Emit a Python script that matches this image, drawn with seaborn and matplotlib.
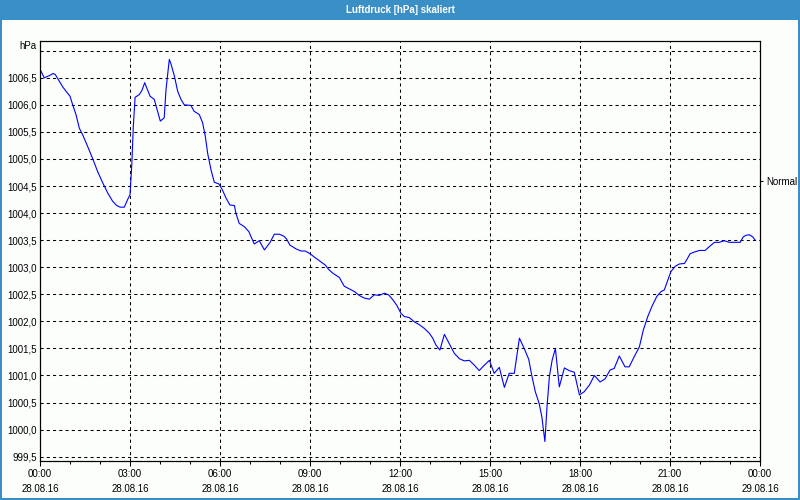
import matplotlib
matplotlib.use("Agg")
import matplotlib.pyplot as plt
from matplotlib.patches import Rectangle
from matplotlib.ticker import FixedLocator, MultipleLocator
import seaborn as sns
import pandas as pd

title = "Luftdruck [hPa] skaliert"
unit_label = "hPa"
ref_label = "Normal"
ref_value = 1004.60

hours = [0.01, 0.14, 0.31, 0.44, 0.51, 0.64, 0.76, 0.87, 1.0, 1.09, 1.2, 1.31, 1.42, 1.59, 1.76, 1.92,
         2.09, 2.26, 2.42, 2.56, 2.67, 2.81, 2.92, 3.0, 3.06, 3.11, 3.17, 3.31, 3.4, 3.49, 3.56, 3.67,
         3.81, 3.87, 4.01, 4.14, 4.2, 4.31, 4.37, 4.48, 4.59, 4.7, 4.81, 5.03, 5.14, 5.31, 5.42, 5.51,
         5.59, 5.7, 5.81, 5.96, 6.07, 6.2, 6.33, 6.48, 6.53, 6.64, 6.81, 6.96, 7.03, 7.14, 7.31, 7.48,
         7.67, 7.81, 7.98, 8.14, 8.22, 8.33, 8.53, 8.7, 8.84, 9.0, 9.14, 9.31, 9.51, 9.62, 9.76, 9.98,
         10.14, 10.31, 10.48, 10.64, 10.81, 10.98, 11.14, 11.31, 11.48, 11.62, 11.76, 11.89, 12.03,
         12.14, 12.31, 12.48, 12.64, 12.81, 12.98, 13.09, 13.2, 13.33, 13.48, 13.64, 13.81, 13.98,
         14.14, 14.31, 14.48, 14.64, 14.81, 14.98, 15.14, 15.31, 15.48, 15.64, 15.81, 15.98, 16.14,
         16.29, 16.4, 16.51, 16.64, 16.73, 16.83, 16.9, 16.98, 17.07, 17.18, 17.31, 17.48, 17.64,
         17.81, 17.98, 18.14, 18.31, 18.48, 18.67, 18.84, 19.0, 19.14, 19.31, 19.5, 19.64, 19.81,
         19.98, 20.11, 20.26, 20.4, 20.56, 20.7, 20.81, 20.9, 21.03, 21.18, 21.31, 21.48, 21.56,
         21.67, 21.81, 21.98, 22.17, 22.31, 22.48, 22.64, 22.81, 22.98, 23.14, 23.34, 23.44, 23.53,
         23.64, 23.76, 23.84]

pressure = [1006.65, 1006.5, 1006.54, 1006.58, 1006.56, 1006.44, 1006.33, 1006.25, 1006.16, 1006.0,
            1005.82, 1005.57, 1005.45, 1005.23, 1005.0, 1004.77, 1004.56, 1004.37, 1004.22, 1004.14,
            1004.11, 1004.11, 1004.25, 1004.34, 1004.9, 1005.6, 1006.14, 1006.19, 1006.27, 1006.41,
            1006.31, 1006.16, 1006.1, 1005.98, 1005.7, 1005.76, 1006.28, 1006.84, 1006.75, 1006.53,
            1006.25, 1006.1, 1006.0, 1005.99, 1005.88, 1005.82, 1005.67, 1005.42, 1005.1, 1004.8,
            1004.57, 1004.54, 1004.44, 1004.28, 1004.15, 1004.14, 1004.0, 1003.81, 1003.75, 1003.66,
            1003.57, 1003.43, 1003.49, 1003.32, 1003.46, 1003.61, 1003.61, 1003.57, 1003.52, 1003.41,
            1003.34, 1003.3, 1003.3, 1003.25, 1003.19, 1003.12, 1003.04, 1002.96, 1002.89, 1002.81,
            1002.65, 1002.6, 1002.55, 1002.48, 1002.43, 1002.41, 1002.49, 1002.48, 1002.52, 1002.49,
            1002.4, 1002.3, 1002.15, 1002.09, 1002.07, 1001.99, 1001.94, 1001.87, 1001.78, 1001.69,
            1001.56, 1001.47, 1001.76, 1001.59, 1001.41, 1001.31, 1001.27, 1001.28, 1001.19, 1001.09,
            1001.19, 1001.28, 1001.04, 1001.15, 1000.78, 1001.04, 1001.04, 1001.69, 1001.5, 1001.3,
            1000.98, 1000.7, 1000.48, 1000.23, 999.78, 1000.42, 1000.98, 1001.28, 1001.5, 1000.79,
            1001.14, 1001.09, 1001.06, 1000.64, 1000.7, 1000.82, 1001.0, 1000.88, 1000.94, 1001.1,
            1001.13, 1001.36, 1001.16, 1001.16, 1001.35, 1001.53, 1001.84, 1002.09, 1002.28, 1002.46,
            1002.55, 1002.58, 1002.72, 1002.92, 1003.02, 1003.06, 1003.07, 1003.14, 1003.25, 1003.28,
            1003.31, 1003.31, 1003.38, 1003.46, 1003.46, 1003.49, 1003.46, 1003.46, 1003.46, 1003.56,
            1003.59, 1003.6, 1003.56, 1003.5]

x_tick_hours = [0, 3, 6, 9, 12, 15, 18, 21, 24]
x_tick_labels = ["00:00\n28.08.16", "03:00\n28.08.16", "06:00\n28.08.16", "09:00\n28.08.16",
                 "12:00\n28.08.16", "15:00\n28.08.16", "18:00\n28.08.16", "21:00\n28.08.16",
                 "00:00\n29.08.16"]
y_ticks = [999.5, 1000.0, 1000.5, 1001.0, 1001.5, 1002.0, 1002.5, 1003.0, 1003.5, 1004.0,
           1004.5, 1005.0, 1005.5, 1006.0, 1006.5, 1007.0]

sns.set_theme(style="white")
plt.rcParams["font.family"] = ["Liberation Sans", "DejaVu Sans"]

bar_blue = "#3b8fc7"
bg = "#fcfefc"
fs = 7

fig = plt.figure(figsize=(8, 5), dpi=100, facecolor=bg)
# title bar and window frame
fig.add_artist(Rectangle((0, 1 - 20 / 500), 1, 20 / 500, transform=fig.transFigure,
                         facecolor=bar_blue, edgecolor="none", zorder=0))
fig.add_artist(Rectangle((0, 0), 2 / 800, 1, transform=fig.transFigure,
                         facecolor=bar_blue, edgecolor="none", zorder=0))
fig.add_artist(Rectangle((1 - 2 / 800, 0), 2 / 800, 1, transform=fig.transFigure,
                         facecolor=bar_blue, edgecolor="none", zorder=0))
fig.add_artist(Rectangle((0, 0), 1, 2 / 500, transform=fig.transFigure,
                         facecolor=bar_blue, edgecolor="none", zorder=0))
fig.text(0.5, 1 - 10 / 500, title, color="white", fontsize=fs, fontweight="bold",
         ha="center", va="center")

ax = fig.add_axes([40 / 800, 1 - 461 / 500, 720 / 800, 420 / 500])
ax.set_facecolor(bg)

df = pd.DataFrame({"hour": hours, "pressure": pressure})
sns.lineplot(data=df, x="hour", y="pressure", ax=ax, color="#0000ff", linewidth=0.8,
             estimator=None, sort=False)

ax.set_xlim(0, 24)
ax.set_ylim(999.42, 1007.18)
ax.set_xlabel("")
ax.set_ylabel("")

ax.xaxis.set_major_locator(FixedLocator(x_tick_hours))
ax.set_xticklabels(x_tick_labels, fontsize=fs, linespacing=1.7)
ax.xaxis.set_minor_locator(MultipleLocator(1))
ax.yaxis.set_major_locator(FixedLocator(y_ticks))
ylabels = [f"{v:.1f}".replace(".", ",") for v in y_ticks]
ylabels[-1] = unit_label
ax.set_yticklabels(ylabels, fontsize=fs)

ax.tick_params(axis="x", which="major", bottom=True, length=3.5, width=0.75, color="black",
               direction="out", pad=2, labelcolor="black")
ax.tick_params(axis="x", which="minor", bottom=True, length=2, width=0.75, color="black",
               direction="out")
ax.tick_params(axis="y", which="major", left=True, length=0, pad=2.5, labelcolor="black")
for lab in ax.get_yticklabels():
    if lab.get_text() == unit_label:
        lab.set_va("bottom")

ax.grid(True, which="major", color="black", linestyle=(0, (3, 3)), linewidth=0.75)
for s in ax.spines.values():
    s.set_color("black")
    s.set_linewidth(0.8)

ax2 = ax.twinx()
ax2.set_ylim(ax.get_ylim())
ax2.yaxis.set_major_locator(FixedLocator([ref_value]))
ax2.set_yticklabels([ref_label], fontsize=fs)
ax2.tick_params(axis="y", right=True, length=2.5, width=0.75, color="black", direction="out",
                pad=2, labelcolor="black")
ax2.grid(False)
for s in ax2.spines.values():
    s.set_color("black")
    s.set_linewidth(0.8)

fig.savefig("out.png", dpi=100, facecolor=bg)
